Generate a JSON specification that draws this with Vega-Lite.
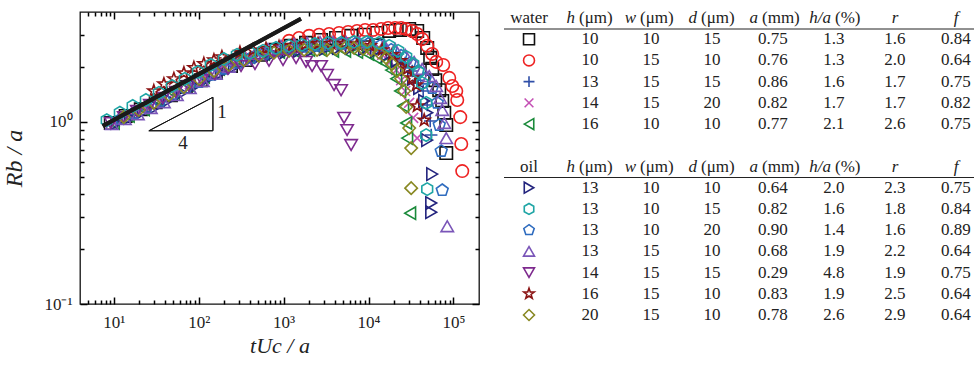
{
  "$schema": "https://vega.github.io/schema/vega-lite/v6.json",
  "padding": {"left": 2, "top": 9, "right": 0, "bottom": 0},
  "spacing": 22,
  "datasets": {
    "pts": [
      {"s":"w1","x":9.22,"y":0.984},{"s":"w1","x":13.8,"y":1.075},{"s":"w1","x":20.8,"y":1.17},{"s":"w1","x":31.2,"y":1.28},{"s":"w1","x":47.1,"y":1.40},{"s":"w1","x":70.6,"y":1.55},{"s":"w1","x":106,"y":1.69},{"s":"w1","x":159,"y":1.85},{"s":"w1","x":240,"y":2.02},{"s":"w1","x":360,"y":2.18},{"s":"w1","x":541,"y":2.33},{"s":"w1","x":814,"y":2.48},{"s":"w1","x":1223,"y":2.61},{"s":"w1","x":1838,"y":2.71},{"s":"w1","x":2760,"y":2.81},{"s":"w1","x":4148,"y":2.88},{"s":"w1","x":6234,"y":2.96},{"s":"w1","x":8873,"y":3.00},{"s":"w1","x":12640,"y":3.07},{"s":"w1","x":17490,"y":3.15},{"s":"w1","x":23580,"y":3.19},{"s":"w1","x":30110,"y":3.23},{"s":"w1","x":37420,"y":3.15},{"s":"w1","x":44050,"y":2.88},{"s":"w1","x":49100,"y":2.54},{"s":"w1","x":53280,"y":2.24},{"s":"w1","x":56250,"y":1.95},{"s":"w1","x":61030,"y":1.69},{"s":"w1","x":68040,"y":1.49},{"s":"w1","x":73810,"y":1.30},{"s":"w1","x":77940,"y":1.12},{"s":"w1","x":82290,"y":0.959},{"s":"w1","x":82290,"y":0.673},
      {"s":"w2","x":1159,"y":2.78},{"s":"w2","x":1520,"y":2.88},{"s":"w2","x":1995,"y":2.96},{"s":"w2","x":2614,"y":3.00},{"s":"w2","x":3430,"y":3.03},{"s":"w2","x":4500,"y":3.07},{"s":"w2","x":5747,"y":3.11},{"s":"w2","x":7334,"y":3.15},{"s":"w2","x":9117,"y":3.19},{"s":"w2","x":11330,"y":3.19},{"s":"w2","x":14060,"y":3.23},{"s":"w2","x":17020,"y":3.27},{"s":"w2","x":20590,"y":3.27},{"s":"w2","x":24230,"y":3.27},{"s":"w2","x":27760,"y":3.23},{"s":"w2","x":32660,"y":3.15},{"s":"w2","x":37420,"y":3.03},{"s":"w2","x":42870,"y":2.84},{"s":"w2","x":49100,"y":2.61},{"s":"w2","x":56250,"y":2.355},{"s":"w2","x":62710,"y":2.13},{"s":"w2","x":75860,"y":2.05},{"s":"w2","x":89270,"y":1.74},{"s":"w2","x":97020,"y":1.57},{"s":"w2","x":108000,"y":1.475},{"s":"w2","x":110900,"y":1.316},{"s":"w2","x":120300,"y":1.06},{"s":"w2","x":123600,"y":0.755},{"s":"w2","x":127000,"y":0.536},
      {"s":"w3","x":10.55,"y":0.996},{"s":"w3","x":15.8,"y":1.09},{"s":"w3","x":23.9,"y":1.19},{"s":"w3","x":35.9,"y":1.316},{"s":"w3","x":53.8,"y":1.456},{"s":"w3","x":81,"y":1.61},{"s":"w3","x":121.4,"y":1.76},{"s":"w3","x":182.6,"y":1.92},{"s":"w3","x":274.5,"y":2.075},{"s":"w3","x":413,"y":2.21},{"s":"w3","x":620,"y":2.33},{"s":"w3","x":932,"y":2.415},{"s":"w3","x":1401,"y":2.48},{"s":"w3","x":2106,"y":2.54},{"s":"w3","x":2994,"y":2.57},{"s":"w3","x":4262,"y":2.61},{"s":"w3","x":6067,"y":2.61},{"s":"w3","x":8635,"y":2.61},{"s":"w3","x":11960,"y":2.54},{"s":"w3","x":16120,"y":2.45},{"s":"w3","x":21160,"y":2.30},{"s":"w3","x":27010,"y":2.10},{"s":"w3","x":32660,"y":1.90},{"s":"w3","x":38460,"y":1.69},{"s":"w3","x":44050,"y":1.475},{"s":"w3","x":49100,"y":1.235},{"s":"w3","x":53280,"y":1.01},{"s":"w3","x":54740,"y":0.845},
      {"s":"w4","x":10.3,"y":0.996},{"s":"w4","x":15.4,"y":1.09},{"s":"w4","x":23.2,"y":1.19},{"s":"w4","x":34.9,"y":1.316},{"s":"w4","x":52.4,"y":1.456},{"s":"w4","x":78.7,"y":1.61},{"s":"w4","x":118,"y":1.78},{"s":"w4","x":178,"y":1.95},{"s":"w4","x":267,"y":2.13},{"s":"w4","x":402,"y":2.27},{"s":"w4","x":603,"y":2.39},{"s":"w4","x":907,"y":2.48},{"s":"w4","x":1364,"y":2.54},{"s":"w4","x":2050,"y":2.57},{"s":"w4","x":2914,"y":2.61},{"s":"w4","x":4148,"y":2.61},{"s":"w4","x":5905,"y":2.61},{"s":"w4","x":8177,"y":2.57},{"s":"w4","x":11020,"y":2.48},{"s":"w4","x":14460,"y":2.33},{"s":"w4","x":17970,"y":2.13},{"s":"w4","x":21220,"y":1.92},{"s":"w4","x":24230,"y":1.69},{"s":"w4","x":27010,"y":1.475},{"s":"w4","x":30110,"y":1.27},{"s":"w4","x":33560,"y":1.05},{"s":"w4","x":37420,"y":0.813},
      {"s":"w5","x":10,"y":0.984},{"s":"w5","x":15,"y":1.075},{"s":"w5","x":22.6,"y":1.17},{"s":"w5","x":34,"y":1.30},{"s":"w5","x":51,"y":1.44},{"s":"w5","x":76.6,"y":1.59},{"s":"w5","x":115,"y":1.76},{"s":"w5","x":173,"y":1.95},{"s":"w5","x":260,"y":2.13},{"s":"w5","x":391,"y":2.27},{"s":"w5","x":587,"y":2.355},{"s":"w5","x":883,"y":2.415},{"s":"w5","x":1327,"y":2.45},{"s":"w5","x":1995,"y":2.48},{"s":"w5","x":2760,"y":2.48},{"s":"w5","x":3824,"y":2.45},{"s":"w5","x":5297,"y":2.45},{"s":"w5","x":7334,"y":2.415},{"s":"w5","x":9888,"y":2.355},{"s":"w5","x":12290,"y":2.24},{"s":"w5","x":15690,"y":2.10},{"s":"w5","x":18460,"y":1.92},{"s":"w5","x":21220,"y":1.72},{"s":"w5","x":23580,"y":1.475},{"s":"w5","x":25590,"y":1.22},{"s":"w5","x":27760,"y":0.984},{"s":"w5","x":28520,"y":0.813},{"s":"w5","x":30940,"y":0.315},
      {"s":"o1","x":10.85,"y":0.984},{"s":"o1","x":15.4,"y":1.05},{"s":"o1","x":21.95,"y":1.13},{"s":"o1","x":31.2,"y":1.205},{"s":"o1","x":44.6,"y":1.316},{"s":"o1","x":63.5,"y":1.44},{"s":"o1","x":90.2,"y":1.57},{"s":"o1","x":128.5,"y":1.72},{"s":"o1","x":182.6,"y":1.85},{"s":"o1","x":260,"y":2.0},{"s":"o1","x":370,"y":2.16},{"s":"o1","x":527,"y":2.27},{"s":"o1","x":750,"y":2.355},{"s":"o1","x":1067,"y":2.415},{"s":"o1","x":1520,"y":2.45},{"s":"o1","x":2164,"y":2.48},{"s":"o1","x":3076,"y":2.51},{"s":"o1","x":4380,"y":2.54},{"s":"o1","x":6234,"y":2.54},{"s":"o1","x":8873,"y":2.51},{"s":"o1","x":12290,"y":2.45},{"s":"o1","x":16560,"y":2.33},{"s":"o1","x":21740,"y":2.16},{"s":"o1","x":27760,"y":1.95},{"s":"o1","x":33560,"y":1.72},{"s":"o1","x":39520,"y":1.53},{"s":"o1","x":45260,"y":1.30},{"s":"o1","x":49100,"y":1.12},{"s":"o1","x":49100,"y":0.793},{"s":"o1","x":56250,"y":0.516},{"s":"o1","x":54740,"y":0.358},{"s":"o1","x":54740,"y":0.319},
      {"s":"o3","x":12.1,"y":1.035},{"s":"o3","x":17.2,"y":1.116},{"s":"o3","x":24.5,"y":1.205},{"s":"o3","x":34.9,"y":1.30},{"s":"o3","x":49.7,"y":1.42},{"s":"o3","x":70.6,"y":1.53},{"s":"o3","x":100.5,"y":1.65},{"s":"o3","x":143,"y":1.806},{"s":"o3","x":203,"y":1.95},{"s":"o3","x":290,"y":2.10},{"s":"o3","x":413,"y":2.24},{"s":"o3","x":587,"y":2.355},{"s":"o3","x":836,"y":2.45},{"s":"o3","x":1191,"y":2.51},{"s":"o3","x":1694,"y":2.57},{"s":"o3","x":2410,"y":2.61},{"s":"o3","x":3430,"y":2.64},{"s":"o3","x":4882,"y":2.67},{"s":"o3","x":6947,"y":2.67},{"s":"o3","x":9888,"y":2.67},{"s":"o3","x":13700,"y":2.61},{"s":"o3","x":18460,"y":2.48},{"s":"o3","x":24230,"y":2.30},{"s":"o3","x":30940,"y":2.10},{"s":"o3","x":38460,"y":1.90},{"s":"o3","x":46500,"y":1.72},{"s":"o3","x":56250,"y":1.53},{"s":"o3","x":64440,"y":1.27},{"s":"o3","x":68040,"y":0.959},{"s":"o3","x":71830,"y":0.690},{"s":"o3","x":73810,"y":0.421},
      {"s":"o4","x":9.47,"y":0.971},{"s":"o4","x":13.5,"y":1.035},{"s":"o4","x":19.2,"y":1.10},{"s":"o4","x":27.3,"y":1.19},{"s":"o4","x":38.9,"y":1.28},{"s":"o4","x":55.3,"y":1.40},{"s":"o4","x":78.7,"y":1.53},{"s":"o4","x":112,"y":1.67},{"s":"o4","x":159,"y":1.83},{"s":"o4","x":227,"y":2.0},{"s":"o4","x":323,"y":2.18},{"s":"o4","x":460,"y":2.355},{"s":"o4","x":655,"y":2.51},{"s":"o4","x":932,"y":2.61},{"s":"o4","x":1327,"y":2.67},{"s":"o4","x":1889,"y":2.71},{"s":"o4","x":2686,"y":2.74},{"s":"o4","x":3824,"y":2.74},{"s":"o4","x":5442,"y":2.74},{"s":"o4","x":7745,"y":2.74},{"s":"o4","x":11020,"y":2.71},{"s":"o4","x":15270,"y":2.64},{"s":"o4","x":20590,"y":2.51},{"s":"o4","x":27010,"y":2.33},{"s":"o4","x":34500,"y":2.13},{"s":"o4","x":42870,"y":1.95},{"s":"o4","x":51850,"y":1.78},{"s":"o4","x":62710,"y":1.57},{"s":"o4","x":69910,"y":1.35},{"s":"o4","x":73810,"y":1.16},{"s":"o4","x":77940,"y":0.984},{"s":"o4","x":82290,"y":0.813},{"s":"o4","x":84550,"y":0.267},
      {"s":"o5","x":9.22,"y":0.984},{"s":"o5","x":13.1,"y":1.06},{"s":"o5","x":18.7,"y":1.145},{"s":"o5","x":26.6,"y":1.235},{"s":"o5","x":37.9,"y":1.35},{"s":"o5","x":53.8,"y":1.456},{"s":"o5","x":76.6,"y":1.57},{"s":"o5","x":109,"y":1.69},{"s":"o5","x":155,"y":1.83},{"s":"o5","x":221,"y":1.95},{"s":"o5","x":315,"y":2.02},{"s":"o5","x":460,"y":2.075},{"s":"o5","x":673,"y":2.16},{"s":"o5","x":984,"y":2.18},{"s":"o5","x":1401,"y":2.24},{"s":"o5","x":1838,"y":2.13},{"s":"o5","x":2164,"y":2.02},{"s":"o5","x":2760,"y":2.02},{"s":"o5","x":3248,"y":1.806},{"s":"o5","x":3929,"y":1.59},{"s":"o5","x":4751,"y":1.49},{"s":"o5","x":5155,"y":1.05},{"s":"o5","x":5592,"y":0.900},{"s":"o5","x":6234,"y":0.745},
      {"s":"o6","x":29.6,"y":1.475},{"s":"o6","x":38.9,"y":1.61},{"s":"o6","x":51.0,"y":1.72},{"s":"o6","x":66.9,"y":1.85},{"s":"o6","x":87.8,"y":1.98},{"s":"o6","x":115,"y":2.08},{"s":"o6","x":151,"y":2.18},{"s":"o6","x":187.5,"y":2.27},{"s":"o6","x":306,"y":2.40},{"s":"o6","x":436,"y":2.47},{"s":"o6","x":620,"y":2.52},{"s":"o6","x":883,"y":2.58},{"s":"o6","x":1257,"y":2.62},{"s":"o6","x":1789,"y":2.66},{"s":"o6","x":2544,"y":2.68},{"s":"o6","x":3621,"y":2.69},{"s":"o6","x":5155,"y":2.69},{"s":"o6","x":7334,"y":2.66},{"s":"o6","x":10440,"y":2.61},{"s":"o6","x":14460,"y":2.48},{"s":"o6","x":18970,"y":2.33},{"s":"o6","x":23580,"y":2.16},{"s":"o6","x":28520,"y":1.95},{"s":"o6","x":32660,"y":1.74},{"s":"o6","x":36420,"y":1.59},{"s":"o6","x":37420,"y":1.22},{"s":"o6","x":45260,"y":1.02},
      {"s":"o7","x":13.1,"y":1.06},{"s":"o7","x":19.7,"y":1.16},{"s":"o7","x":29.6,"y":1.27},{"s":"o7","x":44.6,"y":1.40},{"s":"o7","x":66.9,"y":1.55},{"s":"o7","x":100.5,"y":1.72},{"s":"o7","x":151,"y":1.90},{"s":"o7","x":227,"y":2.05},{"s":"o7","x":341,"y":2.18},{"s":"o7","x":513,"y":2.30},{"s":"o7","x":771,"y":2.39},{"s":"o7","x":1159,"y":2.45},{"s":"o7","x":1741,"y":2.48},{"s":"o7","x":2477,"y":2.48},{"s":"o7","x":3248,"y":2.48},{"s":"o7","x":4148,"y":2.51},{"s":"o7","x":5297,"y":2.54},{"s":"o7","x":6761,"y":2.54},{"s":"o7","x":8634,"y":2.51},{"s":"o7","x":10730,"y":2.48},{"s":"o7","x":13330,"y":2.39},{"s":"o7","x":16120,"y":2.24},{"s":"o7","x":18970,"y":2.075},{"s":"o7","x":21740,"y":1.90},{"s":"o7","x":24230,"y":1.72},{"s":"o7","x":26290,"y":1.475},{"s":"o7","x":27760,"y":1.205},{"s":"o7","x":30110,"y":0.923},{"s":"o7","x":31790,"y":0.717},{"s":"o7","x":31790,"y":0.432},
      {"s":"o2","x":8.27,"y":1.02},{"s":"o2","x":11.8,"y":1.12},{"s":"o2","x":16.7,"y":1.22},{"s":"o2","x":23.9,"y":1.316},{"s":"o2","x":34,"y":1.44},{"s":"o2","x":48.4,"y":1.57},{"s":"o2","x":68.7,"y":1.72},{"s":"o2","x":97.9,"y":1.876},{"s":"o2","x":139,"y":2.05},{"s":"o2","x":198,"y":2.21},{"s":"o2","x":282,"y":2.33},{"s":"o2","x":402,"y":2.39},{"s":"o2","x":572,"y":2.45},{"s":"o2","x":814,"y":2.54},{"s":"o2","x":1159,"y":2.61},{"s":"o2","x":1649,"y":2.64},{"s":"o2","x":2346,"y":2.67},{"s":"o2","x":3337,"y":2.71},{"s":"o2","x":4751,"y":2.71},{"s":"o2","x":6761,"y":2.74},{"s":"o2","x":9625,"y":2.74},{"s":"o2","x":13330,"y":2.71},{"s":"o2","x":17490,"y":2.61},{"s":"o2","x":22340,"y":2.45},{"s":"o2","x":27760,"y":2.27},{"s":"o2","x":33560,"y":2.075},{"s":"o2","x":38460,"y":1.876},{"s":"o2","x":42870,"y":1.63},{"s":"o2","x":47780,"y":1.27},{"s":"o2","x":47780,"y":0.845},{"s":"o2","x":49100,"y":0.427}
    ],
    "fit": [{"x":7.4,"y":0.947},{"x":1600,"y":3.67}],
    "tri": [{"o":1,"x":25.9,"y":0.892},{"o":2,"x":147,"y":0.892},{"o":3,"x":147,"y":1.362},{"o":4,"x":25.9,"y":0.892}],
    "lab": [{"x":188,"y":1.13,"t":"1"},{"x":65.2,"y":0.764,"t":"4"}],
    "tbl": [
      {"row":1,"s":"w1","h":"10","w":"10","d":"15","a":"0.75","ha":"1.3","r":"1.6","f":"0.84"},
      {"row":2,"s":"w2","h":"10","w":"15","d":"10","a":"0.76","ha":"1.3","r":"2.0","f":"0.64"},
      {"row":3,"s":"w3","h":"13","w":"15","d":"15","a":"0.86","ha":"1.6","r":"1.7","f":"0.75"},
      {"row":4,"s":"w4","h":"14","w":"15","d":"20","a":"0.82","ha":"1.7","r":"1.7","f":"0.82"},
      {"row":5,"s":"w5","h":"16","w":"10","d":"10","a":"0.77","ha":"2.1","r":"2.6","f":"0.75"},
      {"row":8,"s":"o1","h":"13","w":"10","d":"10","a":"0.64","ha":"2.0","r":"2.3","f":"0.75"},
      {"row":9,"s":"o2","h":"13","w":"10","d":"15","a":"0.82","ha":"1.6","r":"1.8","f":"0.84"},
      {"row":10,"s":"o3","h":"13","w":"10","d":"20","a":"0.90","ha":"1.4","r":"1.6","f":"0.89"},
      {"row":11,"s":"o4","h":"13","w":"15","d":"10","a":"0.68","ha":"1.9","r":"2.2","f":"0.64"},
      {"row":12,"s":"o5","h":"14","w":"15","d":"15","a":"0.29","ha":"4.8","r":"1.9","f":"0.75"},
      {"row":13,"s":"o6","h":"16","w":"15","d":"10","a":"0.83","ha":"1.9","r":"2.5","f":"0.64"},
      {"row":14,"s":"o7","h":"20","w":"15","d":"10","a":"0.78","ha":"2.6","r":"2.9","f":"0.64"}
    ],
    "hplain": [{"row":0,"col":"sym","t":"water"},{"row":7,"col":"sym","t":"oil"}],
    "hital": [{"row":0,"col":"r","t":"r"},{"row":0,"col":"f","t":"f"},{"row":7,"col":"r","t":"r"},{"row":7,"col":"f","t":"f"}],
    "hvarA": [
      {"row":0,"col":"h","v":"h","u":"(μm)"},{"row":0,"col":"w","v":"w","u":"(μm)"},{"row":0,"col":"d","v":"d","u":"(μm)"},{"row":0,"col":"a","v":"a","u":"(mm)"},
      {"row":7,"col":"h","v":"h","u":"(μm)"},{"row":7,"col":"w","v":"w","u":"(μm)"},{"row":7,"col":"d","v":"d","u":"(μm)"},{"row":7,"col":"a","v":"a","u":"(mm)"}
    ],
    "hvarB": [{"row":0,"col":"ha","v":"h/a","u":"(%)"},{"row":7,"col":"ha","v":"h/a","u":"(%)"}],
    "hrule": [{"row":0},{"row":7}]
  },
  "hconcat": [
    {
      "width": 399,
      "height": 292,
      "view": {"stroke": "#111", "strokeWidth": 1.3},
      "layer": [
        {
          "layer": [
            {
              "data": {"name": "pts"},
              "mark": {"type": "point", "filled": false, "strokeWidth": 1.6, "size": 155, "opacity": 1},
              "encoding": {
                "x": {"field": "x", "type": "quantitative",
                  "scale": {"type": "log", "domain": [4, 200000], "nice": false},
                  "axis": {"orient": "bottom", "values": [10,100,1000,10000,100000],
                    "labelExpr": "datum.value==10?'10¹':datum.value==100?'10²':datum.value==1000?'10³':datum.value==10000?'10⁴':'10⁵'",
                    "tickSize": 7, "offset": -7, "labelPadding": 10,
                    "labelOverlap": false, "labelFlush": false, "domain": false,
                    "title": "tUc / a", "titleFontSize": 22, "titleFontStyle": "italic", "titleFontWeight": "normal", "titlePadding": 5}},
                "y": {"field": "y", "type": "quantitative",
                  "scale": {"type": "log", "domain": [0.1, 4], "nice": false},
                  "axis": {"orient": "left", "values": [0.1,1],
                    "labelExpr": "datum.value==1?'10⁰':'10⁻¹'",
                    "tickSize": 7, "offset": -7, "labelPadding": 8,
                    "labelOverlap": false, "labelFlush": false, "domain": false,
                    "title": "Rb / a", "titleFontSize": 24, "titleFontStyle": "italic", "titleFontWeight": "normal", "titlePadding": 17}},
                "color": {"field": "s", "type": "nominal", "legend": null,
                  "scale": {"domain": ["w1","w2","w3","w4","w5","o1","o2","o3","o4","o5","o6","o7"],
                    "range": ["#111111","#ee2222","#2f4fa8","#c450b4","#1a8a3a","#23247e","#1ea5a5","#2f6cbf","#7a55b8","#7e2a8e","#8a1212","#888822"]}},
                "shape": {"field": "s", "type": "nominal", "legend": null,
                  "scale": {"domain": ["w1","w2","w3","w4","w5","o1","o2","o3","o4","o5","o6","o7"],
                    "range": ["square","circle","M-1,0L1,0M0,-1L0,1","M-0.8,-0.8L0.8,0.8M-0.8,0.8L0.8,-0.8","triangle-left","triangle-right",
                      "M0,-1L0.866,-0.5L0.866,0.5L0,1L-0.866,0.5L-0.866,-0.5Z",
                      "M0,-1L0.951,-0.309L0.588,0.809L-0.588,0.809L-0.951,-0.309Z",
                      "triangle-up","triangle-down",
                      "M0,-1L0.235,-0.324L0.951,-0.309L0.38,0.124L0.588,0.809L0,0.4L-0.588,0.809L-0.38,0.124L-0.951,-0.309L-0.235,-0.324Z",
                      "diamond"]}}
              }
            },
            {
              "data": {"name": "tri"},
              "mark": {"type": "line", "stroke": "#111", "strokeWidth": 1},
              "encoding": {
                "x": {"field": "x", "type": "quantitative"},
                "y": {"field": "y", "type": "quantitative"},
                "order": {"field": "o", "type": "quantitative"}
              }
            },
            {
              "data": {"name": "lab"},
              "mark": {"type": "text", "font": "Liberation Serif", "fontSize": 19, "color": "#222", "baseline": "middle", "align": "center"},
              "encoding": {
                "x": {"field": "x", "type": "quantitative"},
                "y": {"field": "y", "type": "quantitative"},
                "text": {"field": "t"}
              }
            }
          ]
        },
        {
          "data": {"name": "fit"},
          "mark": {"type": "line", "stroke": "#1a1a1a", "strokeWidth": 4},
          "encoding": {
            "x": {"field": "x", "type": "quantitative",
              "scale": {"type": "log", "domain": [4, 200000], "nice": false},
              "axis": {"orient": "top", "values": [10,100,1000,10000,100000],
                "labels": false, "domain": false, "title": null, "tickSize": 7, "offset": -7}},
            "y": {"field": "y", "type": "quantitative",
              "scale": {"type": "log", "domain": [0.1, 4], "nice": false},
              "axis": {"orient": "right", "values": [0.1,1],
                "labels": false, "domain": false, "title": null, "tickSize": 7, "offset": -7}}
          }
        },
        {
          "data": {"name": "tri"},
          "mark": {"type": "line", "stroke": "#111", "strokeWidth": 1},
          "encoding": {
            "x": {"field": "x", "type": "quantitative",
              "scale": {"type": "log", "domain": [4, 200000], "nice": false},
              "axis": {"orient": "bottom", "values": [5,6,7,8,9,20,30,40,50,60,70,80,90,200,300,400,500,600,700,800,900,2000,3000,4000,5000,6000,7000,8000,9000,20000,30000,40000,50000,60000,70000,80000,90000],
                "labels": false, "domain": false, "title": null, "tickSize": 4, "offset": -4}},
            "y": {"field": "y", "type": "quantitative",
              "scale": {"type": "log", "domain": [0.1, 4], "nice": false},
              "axis": {"orient": "left", "values": [0.2,0.3,0.4,0.5,0.6,0.7,0.8,0.9,2,3],
                "labels": false, "domain": false, "title": null, "tickSize": 4, "offset": -4}},
            "order": {"field": "o", "type": "quantitative"}
          }
        },
        {
          "data": {"name": "fit"},
          "mark": {"type": "line", "stroke": "#1a1a1a", "strokeWidth": 4},
          "encoding": {
            "x": {"field": "x", "type": "quantitative",
              "scale": {"type": "log", "domain": [4, 200000], "nice": false},
              "axis": {"orient": "top", "values": [5,6,7,8,9,20,30,40,50,60,70,80,90,200,300,400,500,600,700,800,900,2000,3000,4000,5000,6000,7000,8000,9000,20000,30000,40000,50000,60000,70000,80000,90000],
                "labels": false, "domain": false, "title": null, "tickSize": 4, "offset": -4}},
            "y": {"field": "y", "type": "quantitative",
              "scale": {"type": "log", "domain": [0.1, 4], "nice": false},
              "axis": {"orient": "right", "values": [0.2,0.3,0.4,0.5,0.6,0.7,0.8,0.9,2,3],
                "labels": false, "domain": false, "title": null, "tickSize": 4, "offset": -4}}
          }
        }
      ],
      "resolve": {"scale": {"x": "independent", "y": "independent"}}
    },
    {
      "width": 477,
      "height": 309,
      "view": {"stroke": null},
      "layer": [
        {
          "data": {"name": "hrule"},
          "mark": {"type": "rule", "yOffset": 11, "strokeWidth": 1, "color": "#222"},
          "encoding": {
            "y": {"field": "row", "type": "ordinal", "scale": {"type": "point", "domain": [0,1,2,3,4,5,6,7,8,9,10,11,12,13,14], "padding": 0.283}, "axis": null}
          }
        },
        {
          "data": {"name": "tbl"},
          "mark": {"type": "point", "filled": false, "strokeWidth": 1.6, "size": 120, "opacity": 1},
          "encoding": {
            "x": {"datum": "sym", "type": "ordinal", "scale": {"type": "point", "domain": ["sym","h","w","d","a","ha","r","f"], "padding": 0.41}, "axis": null},
            "y": {"field": "row", "type": "ordinal", "scale": {"type": "point", "domain": [0,1,2,3,4,5,6,7,8,9,10,11,12,13,14], "padding": 0.283}, "axis": null},
            "color": {"field": "s", "type": "nominal", "legend": null},
            "shape": {"field": "s", "type": "nominal", "legend": null}
          }
        },
        {
          "data": {"name": "tbl"},
          "transform": [{"fold": ["h","w","d","a","ha","r","f"], "as": ["col","val"]}],
          "mark": {"type": "text", "font": "Liberation Serif", "fontSize": 17, "color": "#222", "baseline": "middle", "align": "center"},
          "encoding": {
            "x": {"field": "col", "type": "ordinal", "axis": null},
            "y": {"field": "row", "type": "ordinal", "axis": null},
            "text": {"field": "val"}
          }
        },
        {
          "data": {"name": "hplain"},
          "mark": {"type": "text", "font": "Liberation Serif", "fontSize": 17, "color": "#222", "baseline": "middle", "align": "center"},
          "encoding": {
            "x": {"field": "col", "type": "ordinal", "axis": null},
            "y": {"field": "row", "type": "ordinal", "axis": null},
            "text": {"field": "t"}
          }
        },
        {
          "data": {"name": "hital"},
          "mark": {"type": "text", "font": "Liberation Serif", "fontSize": 17, "fontStyle": "italic", "color": "#222", "baseline": "middle", "align": "center"},
          "encoding": {
            "x": {"field": "col", "type": "ordinal", "axis": null},
            "y": {"field": "row", "type": "ordinal", "axis": null},
            "text": {"field": "t"}
          }
        },
        {
          "data": {"name": "hvarA"},
          "mark": {"type": "text", "font": "Liberation Serif", "fontSize": 17, "fontStyle": "italic", "color": "#222", "baseline": "middle", "align": "right", "dx": -15},
          "encoding": {
            "x": {"field": "col", "type": "ordinal", "axis": null},
            "y": {"field": "row", "type": "ordinal", "axis": null},
            "text": {"field": "v"}
          }
        },
        {
          "data": {"name": "hvarA"},
          "mark": {"type": "text", "font": "Liberation Serif", "fontSize": 17, "color": "#222", "baseline": "middle", "align": "left", "dx": -11},
          "encoding": {
            "x": {"field": "col", "type": "ordinal", "axis": null},
            "y": {"field": "row", "type": "ordinal", "axis": null},
            "text": {"field": "u"}
          }
        },
        {
          "data": {"name": "hvarB"},
          "mark": {"type": "text", "font": "Liberation Serif", "fontSize": 17, "fontStyle": "italic", "color": "#222", "baseline": "middle", "align": "right", "dx": -3},
          "encoding": {
            "x": {"field": "col", "type": "ordinal", "axis": null},
            "y": {"field": "row", "type": "ordinal", "axis": null},
            "text": {"field": "v"}
          }
        },
        {
          "data": {"name": "hvarB"},
          "mark": {"type": "text", "font": "Liberation Serif", "fontSize": 17, "color": "#222", "baseline": "middle", "align": "left", "dx": 1},
          "encoding": {
            "x": {"field": "col", "type": "ordinal", "axis": null},
            "y": {"field": "row", "type": "ordinal", "axis": null},
            "text": {"field": "u"}
          }
        }
      ]
    }
  ],
  "config": {
    "font": "Liberation Serif",
    "axis": {"labelFont": "Liberation Serif", "titleFont": "Liberation Serif", "labelFontSize": 17, "labelColor": "#222", "titleColor": "#222", "tickColor": "#000000", "tickWidth": 1.5, "grid": false}
  }
}
